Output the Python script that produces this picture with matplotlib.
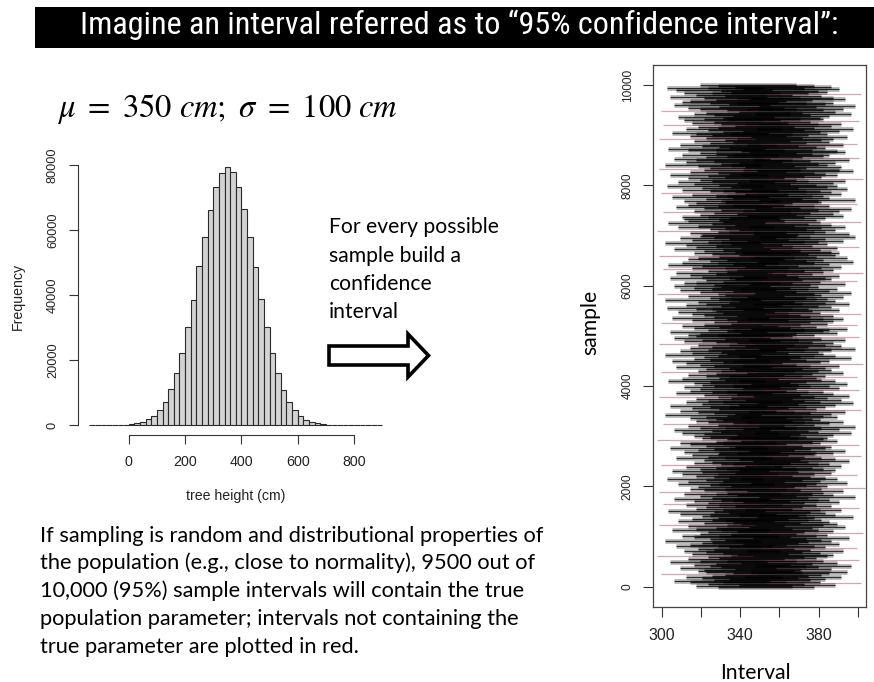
import numpy as np
import matplotlib
matplotlib.use("Agg")
import matplotlib.pyplot as plt
from matplotlib.collections import LineCollection
from matplotlib.patches import Rectangle, Polygon
from matplotlib import font_manager
from matplotlib.font_manager import FontProperties

# ---------------- data ----------------
title_text = "Imagine an interval referred as to \u201c95% confidence interval\u201d:"
param_text = r"$\mu\ =\ 350\ cm;\ \sigma\ =\ 100\ cm$"
arrow_lines = ["For every possible", "sample build a", "confidence", "interval"]
para_lines = [
    "If sampling is random and distributional properties of",
    "the population (e.g., close to normality), 9500 out of",
    "10,000 (95%) sample intervals will contain the true",
    "population parameter; intervals not containing the",
    "true parameter are plotted in red.",
]

# histogram of tree heights (bins of 20 cm starting at -140 cm)
bin_start = -140
bin_width = 20
hist_counts = [1, 2, 5, 12, 28, 60, 125, 250, 500, 950, 1700, 2850,
               4600, 7200, 11000, 16000, 22100, 30200, 38600, 48800, 57900,
               66200, 73300, 77700, 79300, 77900, 73300, 66500, 57800, 48700,
               38800, 30100, 22200, 15900, 10900, 7100, 4500, 2800, 1650, 950,
               500, 260, 120, 60, 28, 12, 5, 2, 1, 0, 0, 1]
hist_xticks = [0, 200, 400, 600, 800]
hist_yticks = [0, 20000, 40000, 60000, 80000]

# confidence intervals: sample means (cm), true mean and CI half-width
mu_true = 350
ci_half_width = 24.5
sample_means = [
    353, 342, 364, 348, 377, 339, 356, 331, 351, 359, 345, 367, 337, 350, 357, 324, 361, 347, 370, 343,
    346, 362, 334, 355, 349, 372, 341, 352, 365, 329, 358, 344, 376, 338, 354, 348, 360, 322, 363, 340,
    356, 347, 368, 336, 351, 343, 375, 359, 332, 353, 339, 366, 345, 350, 362, 326, 357, 349, 371, 341,
    335, 354, 360, 344, 378, 348, 363, 330, 355, 342, 352, 369, 338, 323, 358, 365, 346, 361, 333, 350,
    357, 340, 353, 373, 345, 364, 349, 334, 359, 351, 328, 356, 367, 342, 376, 347, 362, 337, 354, 325,
    348, 366, 341, 355, 361, 331, 350, 374, 344, 363, 336, 352, 358, 323, 368, 346, 339, 357, 379, 343,
    360, 349, 333, 354, 370, 338, 356, 347, 365, 327, 359, 351, 342, 375, 335, 353, 362, 345, 330, 364,
    344, 358, 352, 337, 367, 324, 355, 361, 341, 350, 371, 346, 364, 332, 357, 348, 377, 340, 353, 363,
    354, 336, 369, 343, 351, 359, 329, 362, 347, 376, 339, 356, 334, 352, 365, 322, 358, 345, 360, 349,
    341, 363, 346, 372, 335, 355, 350, 331, 366, 357, 344, 374, 338, 353, 325, 361, 348, 368, 342, 356,
    352, 339, 365, 347, 358, 326, 362, 351, 343, 369, 334, 377, 354, 340, 359, 349, 329, 364, 345, 373,
    337, 356, 348, 367, 342, 360, 323, 353, 371, 346, 363, 332, 350, 358, 339, 376, 344, 366, 336, 351,
    361, 345, 370, 341, 349, 364, 328, 357, 335, 354, 375, 347, 359, 338, 352, 368, 324, 355, 343, 362,
    347, 359, 332, 351, 366, 344, 378, 337, 356, 330, 361, 349, 341, 372, 346, 364, 353, 326, 358, 340,
    355, 334, 362, 348, 374, 339, 350, 367, 343, 359, 323, 363, 352, 336, 369, 345, 357, 331, 376, 342,
    338, 353, 344, 365, 329, 358, 361, 348, 370, 341, 354, 335, 375, 346, 360, 324, 351, 363, 340, 368,
    358, 330, 351, 363, 346, 377, 340, 356, 333, 352, 366, 342, 350, 327, 362, 355, 337, 371, 347, 359,
    343, 364, 326, 354, 360, 349, 368, 338, 357, 322, 353, 372, 344, 361, 334, 350, 365, 341, 355, 331,
    351, 369, 342, 336, 356, 375, 347, 362, 329, 359, 345, 366, 339, 352, 378, 332, 358, 348, 363, 325,
    340, 357, 367, 345, 328, 361, 353, 335, 373, 349, 358, 338, 370, 343, 354, 323, 364, 350, 341, 366,
    362, 346, 356, 331, 365, 342, 376, 352, 337, 360, 326, 355, 348, 368, 340, 359, 334, 374, 351, 344,
    345, 371, 339, 353, 359, 322, 364, 349, 357, 333, 369, 343, 362, 350, 328, 356, 377, 338, 354, 336,
    359, 348, 335, 368, 344, 363, 351, 325, 366, 341, 355, 372, 346, 332, 361, 353, 338, 375, 342, 357,
    336, 355, 374, 347, 361, 330, 358, 352, 340, 367, 324, 362, 349, 356, 335, 370, 345, 360, 327, 365,
    354, 341, 363, 333, 350, 369, 344, 378, 338, 357, 348, 365, 329, 359, 353, 339, 373, 346, 366, 323,
    349, 367, 343, 360, 326, 355, 364, 337, 351, 371, 342, 331, 376, 347, 358, 335, 361, 352, 344, 369,
    365, 338, 352, 328, 359, 354, 345, 368, 334, 375, 349, 361, 341, 357, 323, 363, 347, 370, 339, 350,
    342, 360, 330, 356, 366, 348, 337, 373, 353, 343, 362, 325, 355, 367, 340, 351, 376, 336, 358, 346,
    356, 333, 361, 351, 341, 372, 347, 364, 324, 358, 368, 344, 338, 354, 374, 331, 359, 349, 363, 335,
    339, 352, 369, 346, 363, 329, 357, 342, 377, 350, 336, 360, 355, 332, 366, 348, 327, 362, 353, 344,
]
n_samples_total = 10000
ci_xticks = [300, 320, 340, 360, 380, 400]
ci_xticklabels = ["300", "", "340", "", "380", ""]
ci_yticks = [0, 2000, 4000, 6000, 8000, 10000]

# ---------------- figure ----------------
W, H = 874, 682
fig = plt.figure(figsize=(W / 100, H / 100), dpi=100)
fig.patch.set_facecolor("white")
plt.rcParams["font.family"] = ["Liberation Sans", "DejaVu Sans"]
plt.rcParams["mathtext.fontset"] = "stix"


def pick_title_font():
    ttf = font_manager.fontManager.ttflist
    for name in ["Roboto Condensed", "Liberation Sans Narrow", "Open Sans Condensed",
                 "Noto Sans Condensed"]:
        for f in ttf:
            if f.name == name and f.style == "normal" and f.weight in ("normal", "regular", 400):
                return FontProperties(fname=f.fname)
    return FontProperties(family="Liberation Sans")


def fx(x):
    return x / W


def fy(y):
    return 1 - y / H


renderer = fig.canvas.get_renderer()


def fit(t, target, along="w"):
    bb = t.get_window_extent(renderer)
    cur = bb.width if along == "w" else bb.height
    t.set_fontsize(t.get_fontsize() * target / cur)
    return t.get_fontsize()


AX_COL = "#333333"
BODY_FONT = ["Lato", "DejaVu Sans"]

# ---- title bar ----
fig.add_artist(Rectangle((fx(35), fy(48)), fx(874) - fx(35), (48 - 7) / H,
                         transform=fig.transFigure, facecolor="black",
                         edgecolor="none", zorder=0))
tfp = pick_title_font()
tfp.set_size(20)
t = fig.text(fx(80), fy(34.3), title_text, color="white", ha="left",
             va="baseline", fontproperties=tfp)
fit(t, 759)

# ---- parameter text ----
t = fig.text(fx(57), fy(116.7), param_text, ha="left", va="baseline", fontsize=18)
fit(t, 342)

# ---- histogram ----
ax1 = fig.add_axes([fx(77.7), fy(435.3), (393.9 - 77.7) / W, (435.3 - 157) / H])
counts = np.array(hist_counts, dtype=float)
lefts = bin_start + bin_width * np.arange(len(counts))
ax1.bar(lefts, counts, width=bin_width, align="edge", color="#D3D3D3",
        edgecolor="#2a2a2a", linewidth=0.8)
edge_lo, edge_hi = lefts[0], lefts[-1] + bin_width
pad = 0.04 * (edge_hi - edge_lo)
ax1.set_xlim(edge_lo - pad, edge_hi + pad)
ax1.set_ylim(-0.04 * counts.max(), 1.04 * counts.max())
for s in ["top", "right"]:
    ax1.spines[s].set_visible(False)
ax1.spines["bottom"].set_bounds(hist_xticks[0], hist_xticks[-1])
ax1.spines["left"].set_bounds(hist_yticks[0], hist_yticks[-1])
for s in ["bottom", "left"]:
    ax1.spines[s].set_color(AX_COL)
    ax1.spines[s].set_linewidth(0.8)
ax1.set_xticks(hist_xticks)
ax1.set_yticks(hist_yticks)
ax1.set_yticklabels([str(v) for v in hist_yticks])
ax1.tick_params(axis="x", length=6.5, width=0.8, color=AX_COL, pad=7.6,
                labelsize=10.3, labelcolor="#222222")
ax1.tick_params(axis="y", length=6.5, width=0.8, color=AX_COL, pad=7.0,
                labelsize=9.2, labelcolor="#222222", labelrotation=90)
for lab in ax1.get_yticklabels():
    lab.set_va("center")
fig.text(fx(18.3), fy(296.7), "Frequency", rotation=90, ha="center",
         va="center", fontsize=10.2, color="#222222")
fig.text(fx(235.7), fy(496), "tree height (cm)", ha="center", va="center",
         fontsize=10.2, color="#222222")

# ---- arrow text and arrow ----
t = fig.text(fx(329), fy(233.3), arrow_lines[0], ha="left", va="baseline",
             fontsize=15, family=BODY_FONT)
fs = fit(t, 170)
for i, line in enumerate(arrow_lines[1:], start=1):
    fig.text(fx(329), fy(233.3 + 28.35 * i), line, ha="left", va="baseline",
             fontsize=fs, family=BODY_FONT)
arrow_px = [(329, 346), (408, 346), (408, 334), (428.5, 355.5),
            (408, 377), (408, 365), (329, 365)]
fig.add_artist(Polygon([(fx(x), fy(y)) for x, y in arrow_px], closed=True,
                       transform=fig.transFigure, facecolor="white",
                       edgecolor="black", linewidth=2.6, joinstyle="miter"))

# ---- paragraph ----
t = fig.text(fx(40), fy(569.3), para_lines[1], ha="left", va="baseline",
             fontsize=15, family=BODY_FONT)
fs = fit(t, 497)
for i, line in enumerate(para_lines):
    if i == 1:
        continue
    fig.text(fx(40), fy(541.5 + 27.8 * i), line, ha="left", va="baseline",
             fontsize=fs, family=BODY_FONT)

# ---- confidence interval panel ----
ax2 = fig.add_axes([fx(653), fy(606.7), 213 / W, 541.7 / H])
means = np.array(sample_means, dtype=float)
lower = means - ci_half_width
upper = means + ci_half_width
sample_id = np.linspace(1, n_samples_total, len(means))
covers = (lower <= mu_true) & (upper >= mu_true)

seg_ok = [[(lo, y), (hi, y)] for lo, hi, y, c in zip(lower, upper, sample_id, covers) if c]
seg_bad = [[(lo, y), (hi, y)] for lo, hi, y, c in zip(lower, upper, sample_id, covers) if not c]
# soft wide layer + crisp thin layer of the same intervals
ax2.add_collection(LineCollection(seg_ok, colors=[(0, 0, 0, 0.3)],
                                  linewidths=3.4, capstyle="butt", zorder=2))
ax2.add_collection(LineCollection(seg_ok, colors=[(0, 0, 0, 0.75)],
                                  linewidths=0.8, capstyle="butt", zorder=2.5))
ax2.add_collection(LineCollection(seg_bad, colors=[(0.55, 0.12, 0.28, 0.4)],
                                  linewidths=0.9, capstyle="butt", zorder=3))
ax2.set_xlim(295.6, 404.2)
ax2.set_ylim(-0.04 * n_samples_total, 1.04 * n_samples_total)
for s in ax2.spines.values():
    s.set_color("#444444")
    s.set_linewidth(0.9)
ax2.set_xticks(ci_xticks)
ax2.set_xticklabels(ci_xticklabels)
ax2.set_yticks(ci_yticks)
ax2.set_yticklabels([str(v) for v in ci_yticks])
ax2.tick_params(axis="x", length=7.2, width=0.8, color=AX_COL, pad=8.0,
                labelsize=11.5, labelcolor="#222222")
ax2.tick_params(axis="y", length=7.2, width=0.8, color=AX_COL, pad=6.7,
                labelsize=8.6, labelcolor="#222222", labelrotation=90)
for lab in ax2.get_yticklabels():
    lab.set_va("center")

t = fig.text(fx(755), fy(679), "Interval", ha="center", va="baseline",
             fontsize=16, family=BODY_FONT)
fs = fit(t, 70.7)
t = fig.text(fx(590), fy(322), "sample", rotation=90, ha="center",
             va="center", fontsize=fs, family=BODY_FONT)

fig.savefig("out.png", dpi=100, facecolor="white")
